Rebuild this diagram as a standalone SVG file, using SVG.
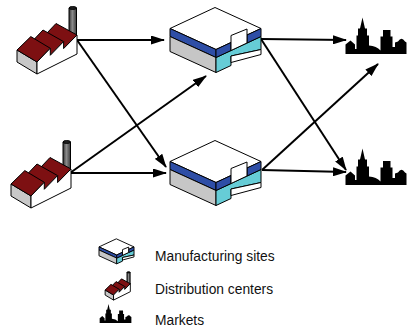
<svg xmlns="http://www.w3.org/2000/svg" xmlns:xlink="http://www.w3.org/1999/xlink" width="408" height="330" viewBox="0 0 408 330">
  <style>
    .link { fill: none; stroke: #000; stroke-width: 2; marker-end: url(#head); }
    .label { font-family: "Liberation Sans", Arial, sans-serif; font-size: 13.8px; fill: #111; }
  </style>
  <defs>
    <marker id="head" markerUnits="userSpaceOnUse" markerWidth="14" markerHeight="9" refX="13" refY="4.5" orient="auto">
      <path d="M0,0 L14,4.5 L0,9 Z" fill="#000"/>
    </marker>
    <linearGradient id="stack" x1="0" y1="0" x2="1" y2="0">
      <stop offset="0" stop-color="#333"/>
      <stop offset="0.45" stop-color="#8c8c8c"/>
      <stop offset="1" stop-color="#3a3a3a"/>
    </linearGradient>

    <!-- factory with sawtooth roof and chimney -->
    <g id="factory" stroke="#000" stroke-linejoin="round">
      <rect x="69" y="8" width="7.5" height="28" fill="url(#stack)"/>
      <ellipse cx="72.75" cy="8" rx="3.75" ry="1.4" fill="#222"/>
      <polygon points="17,50 37,62 37,74 17,62" fill="#c8c8c8"/>
      <polygon points="43.6,36.6 63.6,48.6 77,35 56,23.5" fill="#7d1012"/>
      <polygon points="30.3,43.3 50.3,55.3 63.6,41.6 43,30" fill="#7d1012"/>
      <polygon points="17,50 37,62 50.3,48.3 30.8,36.6" fill="#7d1012"/>
      <polygon points="37,74 37,62 50.3,48.3 50.3,55.3 63.6,41.6 63.6,48.6 77,35 77,54" fill="#fff"/>
    </g>

    <!-- warehouse block, origin at the front top corner -->
    <g id="warehouse" stroke="#000" stroke-linejoin="round">
      <polygon points="-46,-21 0,0 45,-21 -1,-42" fill="#fff"/>
      <polygon points="-46,-21 0,0 0,8 -46,-13" fill="#2e4ea6"/>
      <polygon points="-46,-13 0,8 0,23 -46,2" fill="#c6c6c6"/>
      <polygon points="0,8 45,-13 45,0 15,6.5 15,16 0,23" fill="#66ccd6"/>
      <polygon points="0,0 15,-7 15,1 0,8" fill="#2e4ea6"/>
      <polygon points="31,-14.5 45,-21 45,-13 31,-6.5" fill="#2e4ea6"/>
      <polygon points="15,6.5 45,0 45,5 15,13" fill="#fff"/>
      <polygon points="15,-14 31,-20.5 31,-6.5 15,1" fill="#fff"/>
    </g>

    <!-- city skyline -->
    <path id="city" fill="#000" d="M345.5,54 L345.5,44.5 L350.5,40.5 L355,44.5 L355,49 L356.5,49 L356.5,35.5 L358,35.5 L358,28.5 L360,28.5 L362.5,17.5 L365,28.5 L367,28.5 L367,35.5 L369,35.5 L369,45.5 Q376.5,46 380.5,50.5 L380.5,36.5 L383,36.5 L383,30 L390.5,30 L390.5,36.5 L392.5,36.5 L392.5,47 L395,47 L395,42.5 L398,41.5 Q401.5,36 405,41.5 L406.5,42.5 L406.5,54 Z"/>
  </defs>

  <g id="connectors">
    <line class="link" x1="77" y1="40" x2="164" y2="40"/>
    <line class="link" x1="77" y1="40" x2="166" y2="167"/>
    <line class="link" x1="70" y1="173" x2="206" y2="76"/>
    <line class="link" x1="70" y1="173" x2="166" y2="173"/>
    <line class="link" x1="261" y1="39" x2="346" y2="40"/>
    <line class="link" x1="261" y1="39" x2="346" y2="170"/>
    <line class="link" x1="262" y1="170" x2="378" y2="64"/>
    <line class="link" x1="262" y1="170" x2="346" y2="172"/>
  </g>

  <g id="plant-1"><use href="#factory" stroke-width="1"/></g>
  <g id="plant-2"><use href="#factory" stroke-width="1" transform="translate(-6,134)"/></g>

  <g id="site-1"><use href="#warehouse" stroke-width="1" transform="translate(216,49.5)"/></g>
  <g id="site-2"><use href="#warehouse" stroke-width="1" transform="translate(216,182.5)"/></g>

  <g id="market-1"><use href="#city"/></g>
  <g id="market-2"><use href="#city" transform="translate(0,131)"/></g>

  <g id="legend">
    <use href="#warehouse" stroke-width="2.4" transform="translate(116.7,255) scale(0.385)"/>
    <text class="label" x="155" y="261">Manufacturing sites</text>
    <use href="#factory" stroke-width="2.2" transform="translate(98,269) scale(0.42)"/>
    <text class="label" x="155" y="293.5">Distribution centers</text>
    <use href="#city" transform="translate(-80,295) scale(0.52)"/>
    <text class="label" x="155" y="325">Markets</text>
  </g>
</svg>
